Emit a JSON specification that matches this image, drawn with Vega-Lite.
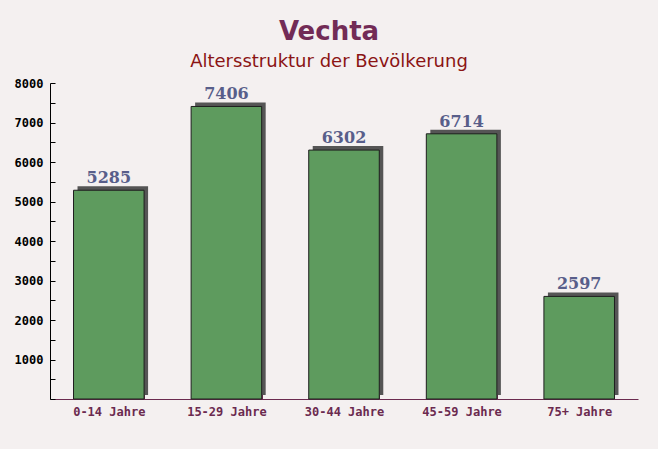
{
  "$schema": "https://vega.github.io/schema/vega-lite/v6.json",
  "width": 588,
  "height": 316,
  "autosize": {"type": "none"},
  "padding": {"left": 50, "top": 83, "right": 20, "bottom": 50},
  "background": "#f4f0f0",
  "title": {
    "text": "Vechta",
    "subtitle": "Altersstruktur der Bevölkerung",
    "anchor": "middle",
    "dx": -15,
    "offset": 6,
    "font": "DejaVu Sans",
    "fontSize": 26,
    "fontWeight": "bold",
    "color": "#722b56",
    "subtitleFont": "DejaVu Sans",
    "subtitleFontSize": 18,
    "subtitleColor": "#8b1414",
    "subtitlePadding": 8
  },
  "data": {
    "values": [
      {"group": "0-14 Jahre", "count": 5285},
      {"group": "15-29 Jahre", "count": 7406},
      {"group": "30-44 Jahre", "count": 6302},
      {"group": "45-59 Jahre", "count": 6714},
      {"group": "75+ Jahre", "count": 2597}
    ]
  },
  "config": {
    "view": {"stroke": null},
    "axis": {"grid": false, "labelFont": "DejaVu Sans Mono", "labelFontWeight": "bold", "labelFontSize": 12, "title": null, "domainWidth": 1, "tickWidth": 1}
  },
  "encoding": {
    "x": {
      "field": "group",
      "type": "nominal",
      "sort": null,
      "scale": {"paddingInner": 0.4, "paddingOuter": 0.2},
      "axis": {
        "labelAngle": 0,
        "domainColor": "#6b2a4f",
        "tickColor": "#6b2a4f",
        "labelColor": "#6b2a4f",
        "tickBand": "extent",
        "tickSize": -5,
        "labelPadding": 12
      }
    },
    "y": {
      "field": "count",
      "type": "quantitative",
      "scale": {"domain": [0, 8000], "nice": false},
      "axis": {
        "values": [0, 500, 1000, 1500, 2000, 2500, 3000, 3500, 4000, 4500, 5000, 5500, 6000, 6500, 7000, 7500, 8000],
        "format": "d",
        "labelExpr": "datum.value % 1000 === 0 && datum.value > 0 ? datum.label : ''",
        "domainColor": "#000000",
        "tickColor": "#000000",
        "labelColor": "#000000",
        "tickSize": -5,
        "labelPadding": 12
      }
    }
  },
  "layer": [
    {
      "mark": {"type": "bar", "color": "#555555", "xOffset": 4, "yOffset": -4}
    },
    {
      "mark": {"type": "bar", "color": "#5e9b5e", "stroke": "#1e1e1e", "strokeWidth": 1}
    },
    {
      "mark": {"type": "text", "baseline": "bottom", "dy": -4, "font": "DejaVu Serif", "fontWeight": "bold", "fontSize": 16, "color": "#585e8a"},
      "encoding": {"text": {"field": "count", "type": "quantitative", "format": "d"}}
    }
  ]
}
